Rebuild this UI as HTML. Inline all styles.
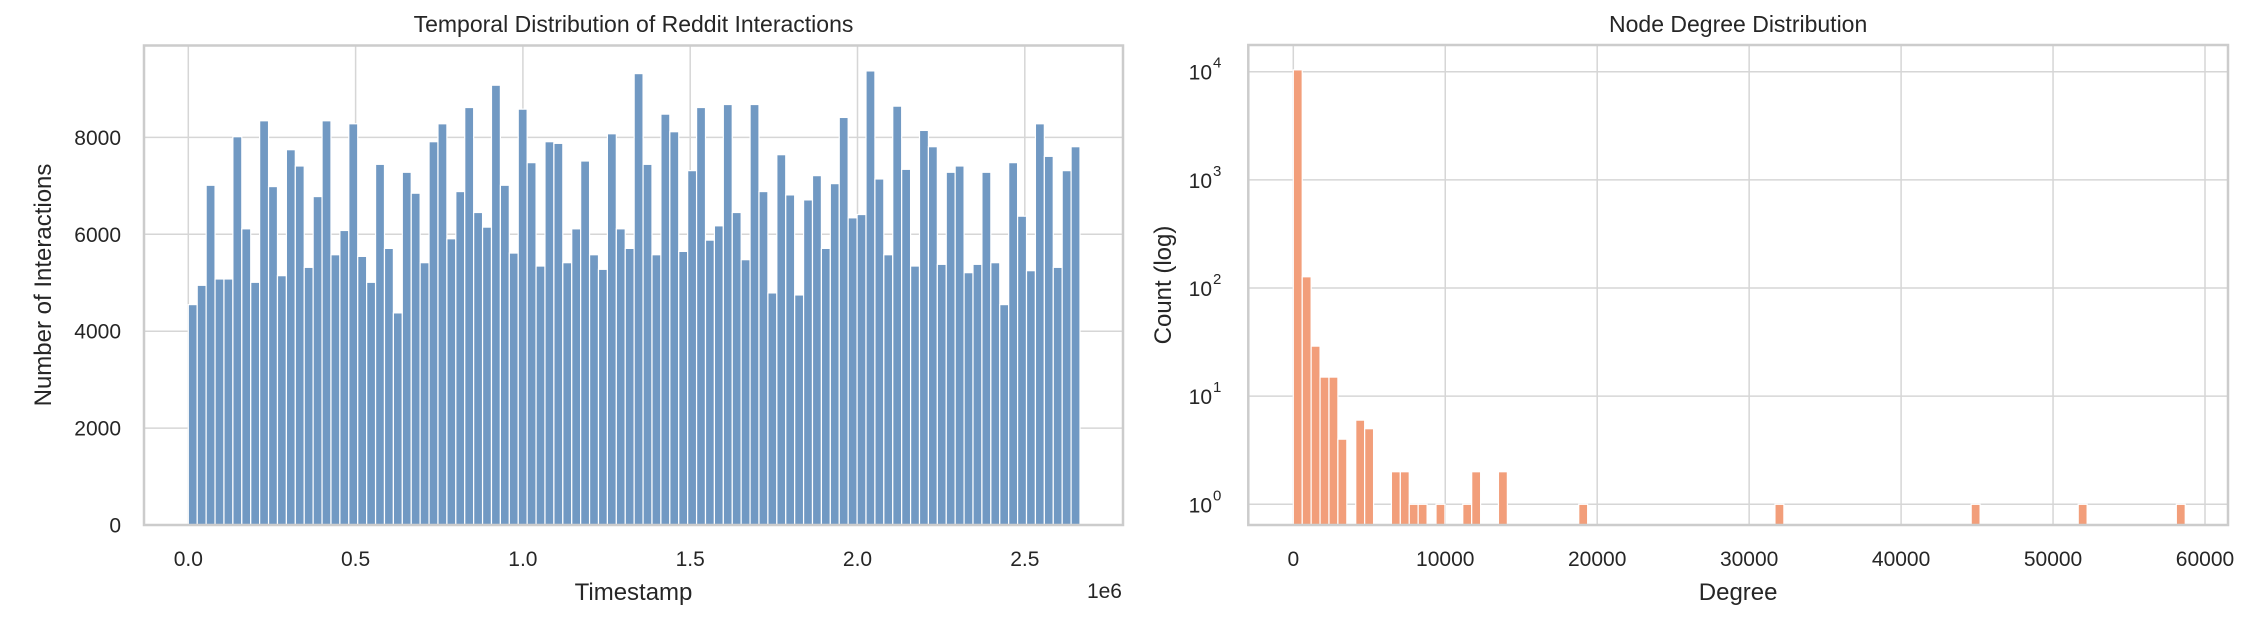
<!DOCTYPE html>
<html><head><meta charset="utf-8"><style>
html,body{margin:0;padding:0;background:#fff;}
svg{display:block;font-family:"Liberation Sans",Arial,sans-serif;}
</style></head><body>
<svg id="fig" width="2258" height="630" viewBox="0 0 2258 630" xmlns="http://www.w3.org/2000/svg">
<g id="left"></g>
<g id="right"></g>
</svg>
<script>
// ---- Left chart data ----
const tsBinWidth = 26650;
const tsCounts = [4549,4947,7012,5078,5078,8014,6113,5009,8343,6985,5146,7746,7410,5318,6779,8343,5578,6079,8281,5544,5009,7444,5709,4378,7280,6848,5414,7911,8281,5908,6882,8617,6450,6148,9077,7012,5613,8583,7479,5345,7911,7877,5414,6113,7513,5578,5277,8075,6113,5709,9317,7444,5578,8480,8117,5647,7314,8617,5880,6175,8679,6450,5476,8679,6882,4790,7643,6813,4748,6710,7211,5709,7046,8412,6340,6408,9372,7142,5578,8645,7341,5345,8144,7808,5380,7280,7410,5208,5380,7280,5414,4549,7479,6374,5249,8281,7609,5318,7314,7808];
const tsXTicks = [0,0.5,1.0,1.5,2.0,2.5];
const tsXTickLabels = ["0.0","0.5","1.0","1.5","2.0","2.5"];
const tsYTicks = [0,2000,4000,6000,8000];
// ---- Right chart data ----
const degBinWidth = 587;
const degCounts = [10400,127,29,15,15,4,0,6,5,0,0,2,2,1,1,0,1,0,0,1,2,0,0,2,0,0,0,0,0,0,0,0,1,0,0,0,0,0,0,0,0,0,0,0,0,0,0,0,0,0,0,0,0,0,1,0,0,0,0,0,0,0,0,0,0,0,0,0,0,0,0,0,0,0,0,0,1,0,0,0,0,0,0,0,0,0,0,0,1,0,0,0,0,0,0,0,0,0,0,1];
const degXTicks = [0,10000,20000,30000,40000,50000,60000];
const degYTickExps = [0,1,2,3,4];

const NS="http://www.w3.org/2000/svg";
function mk(parent,tag,attrs,text){const e=document.createElementNS(NS,tag);for(const k in attrs)e.setAttribute(k,attrs[k]);if(text!==undefined)e.textContent=text;parent.appendChild(e);return e;}
const GRID="#d6d6d6", FRAME="#cccccc", TXT="#262626";

// ---- Left chart ----
(function(){
  const g=document.getElementById('left');
  const L=144,R=1123,T=45.5,B=525;
  const xs=v=>188.3+(v/500000)*167.3;
  const ys=v=>B-(v/2000)*96.9;
  mk(g,'rect',{x:L,y:T,width:R-L,height:B-T,fill:'#fff'});
  tsXTicks.forEach((t,i)=>{
    const x=xs(t*1e6);
    const l=mk(g,'line',{x1:x,y1:T,x2:x,y2:B,stroke:GRID,'stroke-width':1.5});
    
    
    const tx=mk(g,'text',{x:x,y:566,'text-anchor':'middle','font-size':21,fill:TXT},tsXTickLabels[i]);
    
    
  });
  tsYTicks.forEach(t=>{
    const y=ys(t);
    const l=mk(g,'line',{x1:L,y1:y,x2:R,y2:y,stroke:GRID,'stroke-width':1.5});
    
    
    const tx=mk(g,'text',{x:121,y:y+7.5,'text-anchor':'end','font-size':21,fill:TXT},String(t));
    
    
  });
  tsCounts.forEach((c,i)=>{
    const x0=xs(i*tsBinWidth), x1=xs((i+1)*tsBinWidth);
    const r=mk(g,'rect',{x:x0,y:ys(c),width:x1-x0,height:B-ys(c),fill:'#7199c3',stroke:'#fff','stroke-width':1.2});
    
    
  });
  const f=mk(g,'rect',{x:L,y:T,width:R-L,height:B-T,fill:'none',stroke:FRAME,'stroke-width':2.5});
  
  
  const t=mk(g,'text',{x:(L+R)/2,y:32,'text-anchor':'middle','font-size':23,fill:TXT},'Temporal Distribution of Reddit Interactions');
  
  
  const xl=mk(g,'text',{x:(L+R)/2,y:600,'text-anchor':'middle','font-size':24,fill:TXT},'Timestamp');
  
  
  const yl=mk(g,'text',{x:0,y:0,'text-anchor':'middle','font-size':24,fill:TXT,transform:'translate(51,285) rotate(-90)'},'Number of Interactions');
  
  
  const off=mk(g,'text',{x:1122,y:598,'text-anchor':'end','font-size':21,fill:TXT},'1e6');
  
  
})();

// ---- Right chart ----
(function(){
  const g=document.getElementById('right');
  const L=1248.3,R=2228,T=45,B=525;
  const xs=v=>1293.3+(v/1000)*15.195;
  const ys=v=>504.3-Math.log10(v)*108.15;
  mk(g,'rect',{x:L,y:T,width:R-L,height:B-T,fill:'#fff'});
  degXTicks.forEach(t=>{
    const x=xs(t);
    const l=mk(g,'line',{x1:x,y1:T,x2:x,y2:B,stroke:GRID,'stroke-width':1.5});
    
    
    const tx=mk(g,'text',{x:x,y:566,'text-anchor':'middle','font-size':21,fill:TXT},String(t));
    
    
  });
  degYTickExps.forEach(e=>{
    const y=ys(Math.pow(10,e));
    const l=mk(g,'line',{x1:L,y1:y,x2:R,y2:y,stroke:GRID,'stroke-width':1.5});
    
    
    const tx=mk(g,'text',{x:1212,y:y+8,'text-anchor':'end','font-size':21,fill:TXT},'10');
    
    
    const sup=mk(g,'text',{x:1213,y:y-4,'text-anchor':'start','font-size':15,fill:TXT},String(e));
    
    
  });
  degCounts.forEach((c,i)=>{
    if(c<=0) return;
    const x0=xs(i*degBinWidth), x1=xs((i+1)*degBinWidth);
    const r=mk(g,'rect',{x:x0,y:ys(c),width:x1-x0,height:B-ys(c),fill:'#f29e7a',stroke:'#fff','stroke-width':1.2});
    
    
  });
  const f=mk(g,'rect',{x:L,y:T,width:R-L,height:B-T,fill:'none',stroke:FRAME,'stroke-width':2.5});
  
  
  const t=mk(g,'text',{x:(L+R)/2,y:32,'text-anchor':'middle','font-size':23,fill:TXT},'Node Degree Distribution');
  
  
  const xl=mk(g,'text',{x:(L+R)/2,y:600,'text-anchor':'middle','font-size':24,fill:TXT},'Degree');
  
  
  const yl=mk(g,'text',{x:0,y:0,'text-anchor':'middle','font-size':24,fill:TXT,transform:'translate(1171,285) rotate(-90)'},'Count (log)');
  
  
})();
</script>
</body></html>
